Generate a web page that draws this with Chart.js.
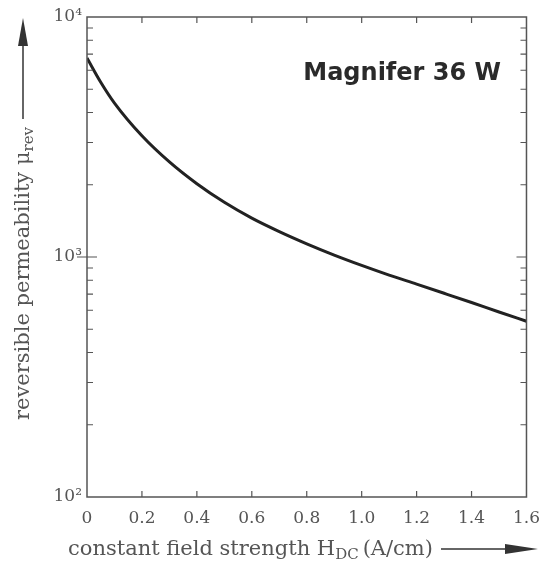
<!DOCTYPE html>
<html>
<head>
<meta charset="utf-8">
<script src="https://cdn.jsdelivr.net/npm/chart.js@4/dist/chart.umd.min.js"></script>
<style>
  html, body { margin: 0; padding: 0; background: #fff; }
  #wrap { width: 551px; height: 571px; }
</style>
</head>
<body>
<div id="wrap"><canvas id="graph"></canvas></div>
<script>
// field strength H_DC (A/cm)
const fieldStrength = [0, 0.05, 0.1, 0.2, 0.3, 0.4, 0.5, 0.6, 0.7, 0.8, 0.9, 1.0, 1.1, 1.2, 1.3, 1.4, 1.5, 1.6];
// reversible permeability mu_rev
const permeability = [6750, 5350, 4380, 3200, 2490, 2020, 1690, 1452, 1276, 1135, 1019, 923, 841, 771, 706, 646, 590, 540];

const xTicks = [0, 0.2, 0.4, 0.6, 0.8, 1.0, 1.2, 1.4, 1.6];
const yMajorTicks = [100, 1000, 10000];
const yMinorTicks = [200, 300, 400, 500, 600, 700, 800, 900, 2000, 3000, 4000, 5000, 6000, 7000, 8000, 9000];
const yTickLabels = { 100: "10²", 1000: "10³", 10000: "10⁴" };
const curveName = "Magnifer 36 W";

const frameColor = "#555";
const textColor = "#555";
const serif = "'DejaVu Serif', serif";

// frame, inside ticks, axis titles with arrows, curve label
const decorations = {
    id: "decorations",
    afterDraw(chart) {
        const { ctx, chartArea: a, scales: { x, y } } = chart;
        ctx.save();
        ctx.strokeStyle = frameColor;
        ctx.lineWidth = 1.5;
        ctx.strokeRect(a.left, a.top, a.right - a.left, a.bottom - a.top);

        ctx.lineWidth = 1.2;
        ctx.beginPath();
        xTicks.forEach(v => {
            const px = x.getPixelForValue(v);
            if (v === 0 || v === 1.6) return;
            ctx.moveTo(px, a.bottom); ctx.lineTo(px, a.bottom - 6);
            ctx.moveTo(px, a.top); ctx.lineTo(px, a.top + 6);
        });
        yMinorTicks.forEach(v => {
            const py = y.getPixelForValue(v);
            ctx.moveTo(a.left, py); ctx.lineTo(a.left + 6, py);
            ctx.moveTo(a.right, py); ctx.lineTo(a.right - 6, py);
        });
        const p3 = y.getPixelForValue(1000);
        ctx.moveTo(a.left - 10, p3); ctx.lineTo(a.left + 10, p3);
        ctx.moveTo(a.right, p3); ctx.lineTo(a.right - 10, p3);
        ctx.stroke();

        // x axis title
        ctx.fillStyle = textColor;
        ctx.textBaseline = "alphabetic";
        ctx.textAlign = "left";
        const xb = 555;
        let cx = 68;
        ctx.font = "21px " + serif;
        const part1 = "constant field strength H";
        ctx.fillText(part1, cx, xb); cx += ctx.measureText(part1).width;
        ctx.font = "15px " + serif;
        ctx.fillText("DC", cx, xb + 4); cx += ctx.measureText("DC").width + 4;
        ctx.font = "21px " + serif;
        ctx.fillText("(A/cm)", cx, xb); cx += ctx.measureText("(A/cm)").width;
        ctx.strokeStyle = "#333";
        ctx.lineWidth = 1.5;
        ctx.beginPath();
        ctx.moveTo(cx + 8, xb - 6); ctx.lineTo(515, xb - 6);
        ctx.stroke();
        ctx.fillStyle = "#333";
        ctx.beginPath();
        ctx.moveTo(538, xb - 6); ctx.lineTo(505, xb - 11); ctx.lineTo(505, xb - 1); ctx.closePath();
        ctx.fill();

        // y axis title (rotated)
        ctx.save();
        ctx.translate(29, 0);
        ctx.rotate(-Math.PI / 2);
        ctx.fillStyle = textColor;
        let cy = -420;
        ctx.font = "21px " + serif;
        const t1 = "reversible permeability μ";
        ctx.fillText(t1, cy, 0); cy += ctx.measureText(t1).width;
        ctx.font = "15px " + serif;
        ctx.fillText("rev", cy, 4); cy += ctx.measureText("rev").width;
        ctx.strokeStyle = "#333";
        ctx.lineWidth = 1.5;
        ctx.beginPath();
        ctx.moveTo(cy + 8, -6); ctx.lineTo(-40, -6);
        ctx.stroke();
        ctx.fillStyle = "#333";
        ctx.beginPath();
        ctx.moveTo(-18, -6); ctx.lineTo(-46, -11); ctx.lineTo(-46, -1); ctx.closePath();
        ctx.fill();
        ctx.restore();

        // curve name
        ctx.fillStyle = "#2a2a2a";
        ctx.font = "bold 24px 'DejaVu Sans', sans-serif";
        ctx.textAlign = "right";
        ctx.fillText(curveName, 501, 80);
        ctx.restore();
    }
};

new Chart(document.getElementById("graph"), {
    type: "line",
    data: {
        datasets: [{
            label: curveName,
            data: fieldStrength.map((h, i) => ({ x: h, y: permeability[i] })),
            borderColor: "#222",
            borderWidth: 3,
            pointRadius: 0,
            cubicInterpolationMode: "monotone",
            fill: false
        }]
    },
    options: {
        responsive: true,
        maintainAspectRatio: false,
        animation: false,
        layout: { padding: { top: 17, right: 12, left: 0, bottom: 0 } },
        plugins: { legend: { display: false }, tooltip: { enabled: false } },
        scales: {
            x: {
                type: "linear",
                min: 0,
                max: 1.6,
                afterBuildTicks: scale => { scale.ticks = xTicks.map(v => ({ value: v })); },
                afterFit: scale => { scale.height = 74; },
                grid: { display: false, drawTicks: false },
                border: { display: false },
                ticks: {
                    color: textColor,
                    padding: 11,
                    maxRotation: 0,
                    autoSkip: false,
                    font: { family: serif, size: 17 },
                    callback: v => v === 0 ? "0" : v.toFixed(1)
                }
            },
            y: {
                type: "logarithmic",
                min: 100,
                max: 10000,
                afterBuildTicks: scale => { scale.ticks = yMajorTicks.map(v => ({ value: v })); },
                afterFit: scale => { scale.width = 87; },
                grid: { display: false, drawTicks: false },
                border: { display: false },
                ticks: {
                    color: textColor,
                    padding: 5,
                    autoSkip: false,
                    font: { family: serif, size: 17 },
                    callback: v => yTickLabels[v] || ""
                }
            }
        }
    },
    plugins: [decorations]
});
</script>
</body>
</html>
